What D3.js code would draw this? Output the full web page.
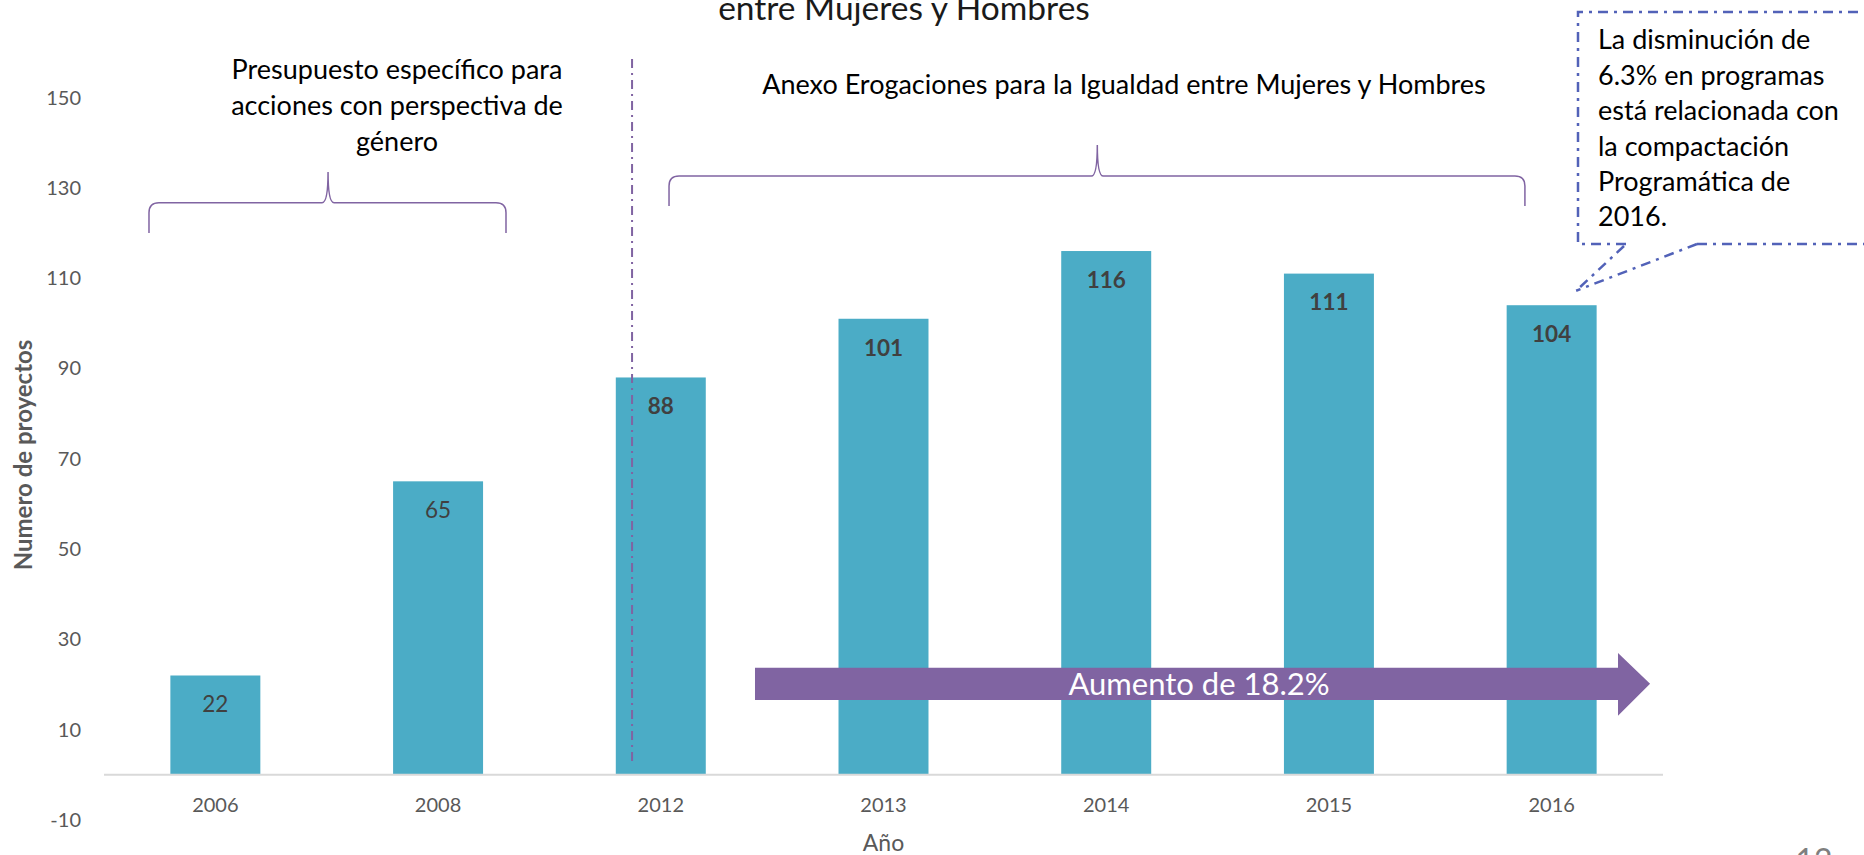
<!DOCTYPE html>
<html>
<head>
<meta charset="utf-8">
<script src="https://cdn.jsdelivr.net/npm/d3@7"></script>
<style>
  html, body { margin: 0; padding: 0; background: #fff; overflow: hidden; }
  svg text { font-family: Lato, "Open Sans", sans-serif; }
</style>
</head>
<body>
<div id="chart"></div>
<script>
(function () {

    // data
    var years = ["2006", "2008", "2012", "2013", "2014", "2015", "2016"];
    var projects = [22, 65, 88, 101, 116, 111, 104];
    var yTicks = [-10, 10, 30, 50, 70, 90, 110, 130, 150];

    var leftNote = ["Presupuesto específico para", "acciones con perspectiva de", "género"];
    var rightNote = "Anexo Erogaciones para la Igualdad entre Mujeres y Hombres";
    var calloutLines = ["La disminución de", "6.3% en programas", "está relacionada con",
                        "la compactación", "Programática de", "2016."];
    var arrowText = "Aumento de 18.2%";

    var W = 1864, H = 855;
    var barColor = "#4BACC6", purple = "#8064A2", calloutBlue = "#5262B8";

    var svg = d3.select("#chart").append("svg")
        .attr("width", W)
        .attr("height", H);

    // scales
    var x = d3.scaleBand()
        .domain(years)
        .range([104, 1663])
        .paddingInner(0.596)
        .paddingOuter(0.298);

    var y = d3.scaleLinear()
        .domain([-10, 150])
        .range([820, 97.5]);

    // position in "category units" (0.5 = centre of first category)
    function xAt(f) {
        return x.range()[0] + x.step() * f;
    }

    // title (only its second line is visible)
    svg.append("text")
        .attr("x", 904)
        .attr("y", 20)
        .attr("text-anchor", "middle")
        .style("font-size", "33.5px")
        .style("fill", "#1a1a1a")
        .text("entre Mujeres y Hombres");

    // y axis labels
    svg.append("g").selectAll("text")
        .data(yTicks)
        .enter().append("text")
        .attr("x", 81)
        .attr("y", function (d) { return y(d); })
        .attr("dy", "0.35em")
        .attr("text-anchor", "end")
        .style("font-size", "20px")
        .style("fill", "#595959")
        .text(function (d) { return d; });

    svg.append("text")
        .attr("transform", "translate(24," + 455 + ") rotate(-90)")
        .attr("text-anchor", "middle")
        .attr("dy", "0.35em")
        .style("font-size", "24px")
        .style("font-weight", "bold")
        .style("fill", "#595959")
        .text("Numero de proyectos");

    // bars
    svg.append("g").selectAll("rect")
        .data(projects)
        .enter().append("rect")
        .attr("x", function (d, i) { return x(years[i]); })
        .attr("width", x.bandwidth())
        .attr("y", function (d) { return y(d); })
        .attr("height", function (d) { return y(0) - y(d); })
        .attr("fill", barColor);

    // value labels, bold from 2012 on (Anexo period)
    var anexoFrom = years.indexOf("2012");
    svg.append("g").selectAll("text")
        .data(projects)
        .enter().append("text")
        .attr("x", function (d, i) { return x(years[i]) + x.bandwidth() / 2; })
        .attr("y", function (d) { return y(d) + 29; })
        .attr("dy", "0.35em")
        .attr("text-anchor", "middle")
        .style("font-size", "22.5px")
        .style("font-weight", function (d, i) { return i >= anexoFrom ? "bold" : "normal"; })
        .style("fill", "#404040")
        .text(function (d) { return d; });

    // x axis line
    svg.append("line")
        .attr("x1", x.range()[0])
        .attr("x2", x.range()[1])
        .attr("y1", y(0))
        .attr("y2", y(0))
        .attr("stroke", "#D9D9D9")
        .attr("stroke-width", 2);

    svg.append("g").selectAll("text")
        .data(years)
        .enter().append("text")
        .attr("x", function (d) { return x(d) + x.bandwidth() / 2; })
        .attr("y", 805)
        .attr("dy", "0.35em")
        .attr("text-anchor", "middle")
        .style("font-size", "20px")
        .style("fill", "#595959")
        .text(function (d) { return d; });

    svg.append("text")
        .attr("x", (x.range()[0] + x.range()[1]) / 2)
        .attr("y", 843)
        .attr("dy", "0.35em")
        .attr("text-anchor", "middle")
        .style("font-size", "23px")
        .style("fill", "#595959")
        .text("Año");

    // dividing dash-dot line
    svg.append("line")
        .attr("x1", xAt(2.371)).attr("x2", xAt(2.371))
        .attr("y1", y(158.5)).attr("y2", y(2.6))
        .attr("stroke", purple)
        .attr("stroke-width", 2)
        .attr("stroke-dasharray", "9,5,2,5");

    // curly brackets
    function brace(f0, f1, fm, vEnd, vLine, vTip) {
        var x0 = xAt(f0), x1 = xAt(f1), xm = xAt(fm),
            yE = y(vEnd), yL = y(vLine), yT = y(vTip), r = 10;
        return "M" + x0 + "," + yE +
            "L" + x0 + "," + (yL + r) +
            "Q" + x0 + "," + yL + " " + (x0 + r) + "," + yL +
            "L" + (xm - 6) + "," + yL +
            "Q" + xm + "," + yL + " " + xm + "," + yT +
            "Q" + xm + "," + yL + " " + (xm + 6) + "," + yL +
            "L" + (x1 - r) + "," + yL +
            "Q" + x1 + "," + yL + " " + x1 + "," + (yL + r) +
            "L" + x1 + "," + yE;
    }
    svg.append("path")
        .attr("d", brace(0.202, 1.805, 1.006, 120, 126.7, 133.5))
        .attr("fill", "none").attr("stroke", purple).attr("stroke-width", 1.5);
    svg.append("path")
        .attr("d", brace(2.537, 6.38, 4.46, 126, 132.6, 139.5))
        .attr("fill", "none").attr("stroke", purple).attr("stroke-width", 1.5);

    // bracket captions
    svg.append("g").selectAll("text")
        .data(leftNote)
        .enter().append("text")
        .attr("x", 397)
        .attr("y", function (d, i) { return 70 + i * 36; })
        .attr("dy", "0.35em")
        .attr("text-anchor", "middle")
        .style("font-size", "27px")
        .style("fill", "#000")
        .text(function (d) { return d; });

    svg.append("text")
        .attr("x", 1124)
        .attr("y", 85)
        .attr("dy", "0.35em")
        .attr("text-anchor", "middle")
        .style("font-size", "27px")
        .style("fill", "#000")
        .text(rightNote);

    // growth arrow
    var aX0 = xAt(2.923), aXb = xAt(6.798), aXt = xAt(6.942);
    svg.append("path")
        .attr("d", "M" + aX0 + "," + y(23.7) +
            "L" + aXb + "," + y(23.7) +
            "L" + aXb + "," + y(27) +
            "L" + aXt + "," + y(20.15) +
            "L" + aXb + "," + y(13.1) +
            "L" + aXb + "," + y(16.6) +
            "L" + aX0 + "," + y(16.6) + "Z")
        .attr("fill", purple);

    svg.append("text")
        .attr("x", 1199)
        .attr("y", y(20.15))
        .attr("dy", "0.35em")
        .attr("text-anchor", "middle")
        .style("font-size", "31px")
        .style("fill", "#fff")
        .text(arrowText);

    // callout box
    var bx0 = 1578, bx1 = 1880, by0 = 12, by1 = 244;
    var tipX = xAt(6.61), tipY = y(107.2);
    var calloutDash = "10,6,3,6";
    svg.append("path")
        .attr("d", "M1626," + by1 + "L" + bx0 + "," + by1 +
            "L" + bx0 + "," + by0 + "L" + bx1 + "," + by0 +
            "M1697," + by1 + "L" + bx1 + "," + by1)
        .attr("fill", "none")
        .attr("stroke", calloutBlue)
        .attr("stroke-width", 2.5)
        .attr("stroke-dasharray", calloutDash);
    svg.append("path")
        .attr("d", "M1624," + (by1 + 2) + "L" + tipX + "," + tipY +
            "M1697," + by1 + "L" + tipX + "," + tipY)
        .attr("fill", "none")
        .attr("stroke", calloutBlue)
        .attr("stroke-width", 2.5)
        .attr("stroke-dasharray", calloutDash);

    svg.append("g").selectAll("text")
        .data(calloutLines)
        .enter().append("text")
        .attr("x", 1598)
        .attr("y", function (d, i) { return 40 + i * 35.4; })
        .attr("dy", "0.35em")
        .style("font-size", "27px")
        .style("fill", "#000")
        .text(function (d) { return d; });

    // slide number
    svg.append("text")
        .attr("x", 1814)
        .attr("y", 872)
        .attr("text-anchor", "middle")
        .style("font-size", "32px")
        .style("fill", "#7F7F7F")
        .text("12");

})();
</script>
</body>
</html>
